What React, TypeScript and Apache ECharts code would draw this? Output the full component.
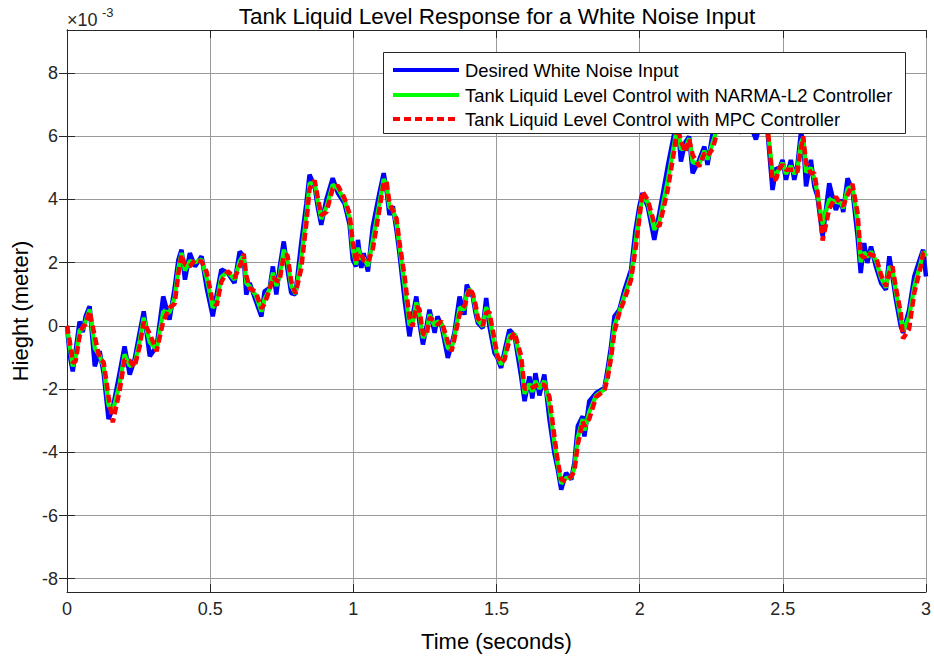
import React, { useEffect, useRef } from "react";
import * as echarts from "echarts";

const timeSec = [
  0.000, 0.009, 0.020, 0.030, 0.044, 0.055, 0.065, 0.079, 0.097, 0.114,
  0.128, 0.145, 0.160, 0.184, 0.201, 0.219, 0.236, 0.254, 0.268, 0.289,
  0.313, 0.336, 0.358, 0.376, 0.389, 0.400, 0.412, 0.429, 0.447, 0.470,
  0.488, 0.509, 0.523, 0.539, 0.561, 0.585, 0.603, 0.617, 0.626, 0.638,
  0.659, 0.679, 0.690, 0.708, 0.719, 0.731, 0.742, 0.757, 0.770, 0.783,
  0.798, 0.818, 0.836, 0.847, 0.865, 0.875, 0.888, 0.906, 0.928, 0.946,
  0.969, 0.987, 0.998, 1.010, 1.016, 1.028, 1.036, 1.051, 1.068, 1.091,
  1.106, 1.116, 1.126, 1.138, 1.151, 1.161, 1.179, 1.196, 1.207, 1.220,
  1.231, 1.243, 1.256, 1.266, 1.284, 1.294, 1.308, 1.330, 1.343, 1.353,
  1.371, 1.388, 1.396, 1.406, 1.417, 1.427, 1.435, 1.452, 1.464, 1.475,
  1.493, 1.503, 1.516, 1.528, 1.545, 1.563, 1.586, 1.598, 1.615, 1.625,
  1.636, 1.650, 1.667, 1.685, 1.702, 1.714, 1.726, 1.743, 1.761, 1.772,
  1.784, 1.801, 1.807, 1.824, 1.848, 1.877, 1.888, 1.900, 1.912, 1.929,
  1.947, 1.970, 1.985, 1.999, 2.010, 2.028, 2.051, 2.069, 2.098, 2.121,
  2.132, 2.144, 2.159, 2.173, 2.185, 2.208, 2.226, 2.237, 2.255, 2.278,
  2.306, 2.331, 2.355, 2.376, 2.406, 2.425, 2.446, 2.464, 2.477, 2.487,
  2.499, 2.511, 2.528, 2.540, 2.551, 2.563, 2.571, 2.581, 2.598, 2.610,
  2.621, 2.639, 2.662, 2.685, 2.703, 2.711, 2.726, 2.743, 2.761, 2.772,
  2.784, 2.795, 2.808, 2.825, 2.843, 2.860, 2.872, 2.883, 2.895, 2.912,
  2.920, 2.941, 2.959, 2.982, 2.990, 3.000,
];

// values in units of 1e-3 m
const desiredInput = [
  0.0, -0.9, -1.44, -0.8, 0.14, -0.2, 0.3, 0.62, -1.28, -0.8,
  -1.5, -2.95, -2.6, -1.48, -0.65, -1.54, -1.07, -0.2, 0.46, -0.96,
  -0.65, 0.93, 0.2, 1.2, 2.09, 2.41, 1.46, 2.3, 1.88, 2.2,
  1.2, 0.3, 1.0, 1.78, 1.68, 1.36, 2.35, 2.2, 0.99, 1.36,
  0.8, 0.3, 1.09, 1.2, 1.88, 0.99, 1.8, 2.67, 1.8, 1.04,
  1.0, 2.62, 3.88, 4.78, 4.41, 3.8, 3.2, 4.0, 4.67, 4.2,
  3.88, 3.2, 2.09, 1.88, 2.72, 1.83, 2.3, 1.72, 3.14, 4.2,
  4.83, 4.3, 3.51, 3.78, 3.0, 2.3, 0.83, -0.33, 0.3, 0.93,
  0.1, -0.59, 0.0, 0.51, -0.22, 0.3, 0.0, -1.01, -0.6, -0.22,
  0.93, 0.35, 1.3, 1.1, 0.93, 0.4, 0.09, -0.07, 0.88, 0.0,
  -0.86, -1.0, -1.33, -0.8, -0.12, -0.3, -1.6, -2.38, -1.6, -2.3,
  -1.5, -2.2, -1.54, -2.96, -4.02, -4.54, -5.18, -4.65, -4.86, -4.33,
  -3.17, -2.86, -3.5, -2.38, -2.12, -1.96, -1.38, -0.65, 0.3, 0.51,
  1.14, 1.78, 3.0, 3.78, 4.2, 3.78, 2.72, 3.57, 5.04, 6.1,
  6.5, 5.2, 5.8, 5.99, 4.83, 5.25, 5.67, 5.09, 6.1, 6.6,
  6.9, 6.4, 6.1, 6.6, 5.9, 6.5, 6.2, 4.3, 5.0, 4.94,
  5.25, 4.62, 5.25, 4.62, 5.09, 6.09, 5.9, 4.41, 5.25, 4.41,
  4.09, 2.83, 4.51, 3.67, 3.99, 3.6, 4.67, 4.3, 2.83, 1.67,
  2.62, 1.99, 2.51, 1.88, 1.36, 1.14, 2.2, 1.56, 0.83, -0.02,
  -0.22, 0.51, 1.56, 2.2, 2.41, 1.56,
];

const narmaL2Level = [
  0.0, -0.63, -1.28, -0.99, -0.14, -0.1, 0.15, 0.52, -0.71, -0.94,
  -1.29, -2.51, -2.7, -1.82, -0.9, -1.27, -1.21, -0.46, 0.26, -0.53,
  -0.74, 0.46, 0.42, 0.9, 1.82, 2.31, 1.75, 2.05, 2.01, 2.1,
  1.5, 0.57, 0.79, 1.55, 1.71, 1.46, 2.05, 2.25, 1.35, 1.25,
  0.97, 0.45, 0.85, 1.17, 1.68, 1.26, 1.56, 2.41, 2.06, 1.27,
  1.01, 2.13, 3.5, 4.51, 4.52, 3.98, 3.38, 3.76, 4.47, 4.34,
  3.98, 3.4, 2.42, 1.94, 2.47, 2.1, 2.16, 1.89, 2.71, 3.88,
  4.64, 4.46, 3.75, 3.7, 3.23, 2.51, 1.27, 0.02, 0.11, 0.74,
  0.35, -0.38, -0.18, 0.36, 0.0, 0.14, 0.09, -0.71, -0.72, -0.33,
  0.58, 0.52, 1.01, 1.16, 0.98, 0.56, 0.18, -0.02, 0.59, 0.26,
  -0.6, -0.96, -1.23, -0.96, -0.32, -0.25, -1.21, -2.15, -1.83, -2.09,
  -1.74, -1.99, -1.74, -2.53, -3.7, -4.38, -4.99, -4.81, -4.8, -4.49,
  -3.52, -2.95, -3.31, -2.72, -2.2, -2.01, -1.55, -0.87, 0.01, 0.45,
  0.95, 1.59, 2.63, 3.55, 4.07, 3.91, 3.04, 3.31, 4.6, 5.78,
  6.38, 5.59, 5.62, 5.93, 5.18, 5.12, 5.54, 5.26, 5.8, 6.45,
  6.81, 6.55, 6.19, 6.45, 6.11, 6.32, 6.29, 4.87, 4.79, 4.96,
  5.16, 4.81, 5.06, 4.81, 4.95, 5.79, 5.96, 4.86, 5.0, 4.66,
  4.19, 3.21, 4.01, 3.92, 3.89, 3.72, 4.35, 4.41, 3.27, 2.02,
  2.33, 2.18, 2.35, 2.07, 1.52, 1.21, 1.88, 1.75, 1.05, 0.23,
  -0.16, 0.29, 1.24, 2.01, 2.35, 2.2,
];

const mpcLevel = [
  0.0, -0.45, -1.17, -1.12, -0.33, -0.03, 0.05, 0.46, -0.33, -1.04,
  -1.15, -2.23, -3.05, -2.04, -1.07, -1.1, -1.3, -0.64, 0.13, -0.25,
  -0.8, 0.14, 0.57, 0.7, 1.65, 2.25, 1.94, 1.88, 2.09, 2.04,
  1.7, 0.75, 0.65, 1.39, 1.73, 1.52, 1.86, 2.28, 1.6, 1.18,
  1.08, 0.55, 0.7, 1.15, 1.54, 1.44, 1.4, 2.24, 2.24, 1.42,
  1.02, 1.81, 3.25, 4.33, 4.6, 4.1, 3.5, 3.6, 4.34, 4.44,
  4.04, 3.54, 2.65, 1.99, 2.3, 2.28, 2.07, 2.01, 2.43, 3.67,
  4.52, 4.57, 3.9, 3.65, 3.39, 2.65, 1.57, 0.25, -0.02, 0.62,
  0.52, -0.25, -0.3, 0.26, 0.15, 0.04, 0.15, -0.5, -0.8, -0.41,
  0.36, 0.64, 0.83, 1.2, 1.02, 0.67, 0.25, 0.01, 0.41, 0.44,
  -0.43, -0.93, -1.17, -1.07, -0.46, -0.21, -0.95, -1.99, -1.99, -1.95,
  -1.9, -1.85, -1.87, -2.25, -3.49, -4.28, -4.86, -4.92, -4.76, -4.6,
  -3.75, -3.02, -3.18, -2.94, -2.25, -2.04, -1.67, -1.02, -0.18, 0.41,
  0.83, 1.46, 2.39, 3.39, 4.25, 3.99, 3.25, 3.15, 4.3, 5.57,
  6.3, 5.85, 5.5, 5.9, 5.41, 5.04, 5.46, 5.38, 5.6, 6.35,
  6.75, 6.65, 6.25, 6.35, 6.25, 6.2, 6.35, 4.6, 4.65, 4.97,
  5.1, 4.94, 4.94, 4.94, 4.86, 5.59, 6.0, 5.16, 4.83, 4.83,
  4.25, 2.7, 3.7, 4.09, 3.83, 3.8, 4.14, 4.49, 3.57, 2.25,
  2.15, 2.31, 2.25, 2.2, 1.62, 1.25, 1.67, 1.88, 1.2, 0.41,
  -0.4, -0.1, 1.04, 1.88, 2.3, 2.35,
];

const yTickValues = [-8, -6, -4, -2, 0, 2, 4, 6, 8];
const seriesNames = [
  "Desired White Noise Input",
  "Tank Liquid Level Control with NARMA-L2 Controller",
  "Tank Liquid Level Control with MPC Controller",
];
const seriesColors = ["#0000ff", "#00ff00", "#ff0000"];

const FONT = "'Liberation Sans', Arial, Helvetica, sans-serif";
const AXIS_COLOR = "#262626";

export default function App() {
  const ref = useRef<HTMLDivElement>(null);

  useEffect(() => {
    if (!ref.current) return;
    const chart = echarts.init(ref.current, null, { renderer: "svg" });
    const pairs = (vals: number[]) => timeSec.map((t, i) => [t, vals[i]]);
    const Y_MIN = -8.42;
    const Y_MAX = 9.36;

    const baseY = {
      type: "value",
      min: Y_MIN,
      max: Y_MAX,
      axisLine: { show: true, lineStyle: { color: AXIS_COLOR, width: 1 } },
      axisTick: {
        show: true,
        inside: true,
        length: 8,
        customValues: yTickValues,
        lineStyle: { color: AXIS_COLOR },
      },
    };
    const baseX = {
      type: "value",
      min: 0,
      max: 3,
      interval: 0.5,
      axisLine: { show: true, onZero: false, lineStyle: { color: AXIS_COLOR, width: 1 } },
      axisTick: { show: true, inside: true, length: 8, lineStyle: { color: AXIS_COLOR } },
    };

    // legend drawn as graphic (box, line samples, texts)
    const LX = 383, LY = 52, LW = 522, LH = 81;
    const rowY = [70, 95, 119];
    const legendEls: any[] = [
      {
        type: "rect",
        z: 100,
        shape: { x: LX + 0.5, y: LY + 0.5, width: LW, height: LH },
        style: { fill: "#ffffff", stroke: AXIS_COLOR, lineWidth: 1 },
      },
    ];
    seriesNames.forEach((name, i) => {
      legendEls.push({
        type: "line",
        z: 101,
        shape: { x1: 393, y1: rowY[i], x2: 459, y2: rowY[i] },
        style: {
          stroke: seriesColors[i],
          lineWidth: 4,
          lineDash: i === 2 ? [7, 4] : null,
        },
      });
      legendEls.push({
        type: "text",
        z: 101,
        x: 465,
        y: rowY[i],
        style: {
          text: name,
          fontSize: 18.4,
          fontFamily: FONT,
          fill: "#000",
          align: "left",
          verticalAlign: "middle",
        },
      });
    });

    const option: any = {
      animation: false,
      backgroundColor: "#ffffff",
      textStyle: { fontFamily: FONT },
      grid: { left: 67, right: 7, top: 30, bottom: 64, containLabel: false },
      xAxis: [
        {
          ...baseX,
          position: "bottom",
          name: "Time (seconds)",
          nameLocation: "middle",
          nameGap: 38,
          nameTextStyle: { fontSize: 22, color: "#000", fontFamily: FONT },
          axisLabel: {
            show: true,
            fontSize: 18,
            color: AXIS_COLOR,
            margin: 8,
            fontFamily: FONT,
            formatter: (v: number) => String(v),
          },
          splitLine: { show: true, lineStyle: { color: "#9a9a9a", width: 1 } },
        },
        {
          ...baseX,
          position: "top",
          axisLabel: { show: false },
          splitLine: { show: false },
        },
      ],
      yAxis: [
        {
          ...baseY,
          position: "left",
          name: "Hieght (meter)",
          nameLocation: "middle",
          nameGap: 29,
          nameRotate: 90,
          nameTextStyle: { fontSize: 22, color: "#000", fontFamily: FONT },
          axisLabel: {
            show: true,
            fontSize: 18,
            color: AXIS_COLOR,
            margin: 9,
            fontFamily: FONT,
            customValues: yTickValues,
            formatter: (v: number) => String(Math.round(v)),
          },
          splitLine: { show: true, lineStyle: { color: "#9a9a9a", width: 1 } },
        },
        {
          ...baseY,
          position: "right",
          axisLabel: { show: false },
          splitLine: { show: false },
        },
      ],
      graphic: [
        {
          type: "text",
          x: 497,
          y: 16,
          style: {
            text: "Tank Liquid Level Response for a White Noise Input",
            fontSize: 22.5,
            fontFamily: FONT,
            fill: "#000",
            align: "center",
            verticalAlign: "middle",
          },
        },
        {
          type: "text",
          x: 67,
          y: 20,
          style: {
            text: "×10",
            fontSize: 18,
            fontFamily: FONT,
            fill: AXIS_COLOR,
            align: "left",
            verticalAlign: "middle",
          },
        },
        {
          type: "text",
          x: 102,
          y: 12,
          style: {
            text: "-3",
            fontSize: 13,
            fontFamily: FONT,
            fill: AXIS_COLOR,
            align: "left",
            verticalAlign: "middle",
          },
        },
        ...legendEls,
      ],
      series: [
        {
          name: seriesNames[0],
          type: "line",
          data: pairs(desiredInput),
          showSymbol: false,
          symbol: "none",
          lineStyle: { color: seriesColors[0], width: 4.5 },
          itemStyle: { color: seriesColors[0] },
        },
        {
          name: seriesNames[1],
          type: "line",
          data: pairs(narmaL2Level),
          showSymbol: false,
          symbol: "none",
          lineStyle: { color: seriesColors[1], width: 4.2 },
          itemStyle: { color: seriesColors[1] },
        },
        {
          name: seriesNames[2],
          type: "line",
          data: pairs(mpcLevel),
          showSymbol: false,
          symbol: "none",
          lineStyle: { color: seriesColors[2], width: 4.5, type: [8, 4] },
          itemStyle: { color: seriesColors[2] },
        },
      ],
    };

    chart.setOption(option);
    return () => chart.dispose();
  }, []);

  return (
    <div
      ref={ref}
      style={{ position: "fixed", left: 0, top: 0, width: 934, height: 657, background: "#fff" }}
    />
  );
}
